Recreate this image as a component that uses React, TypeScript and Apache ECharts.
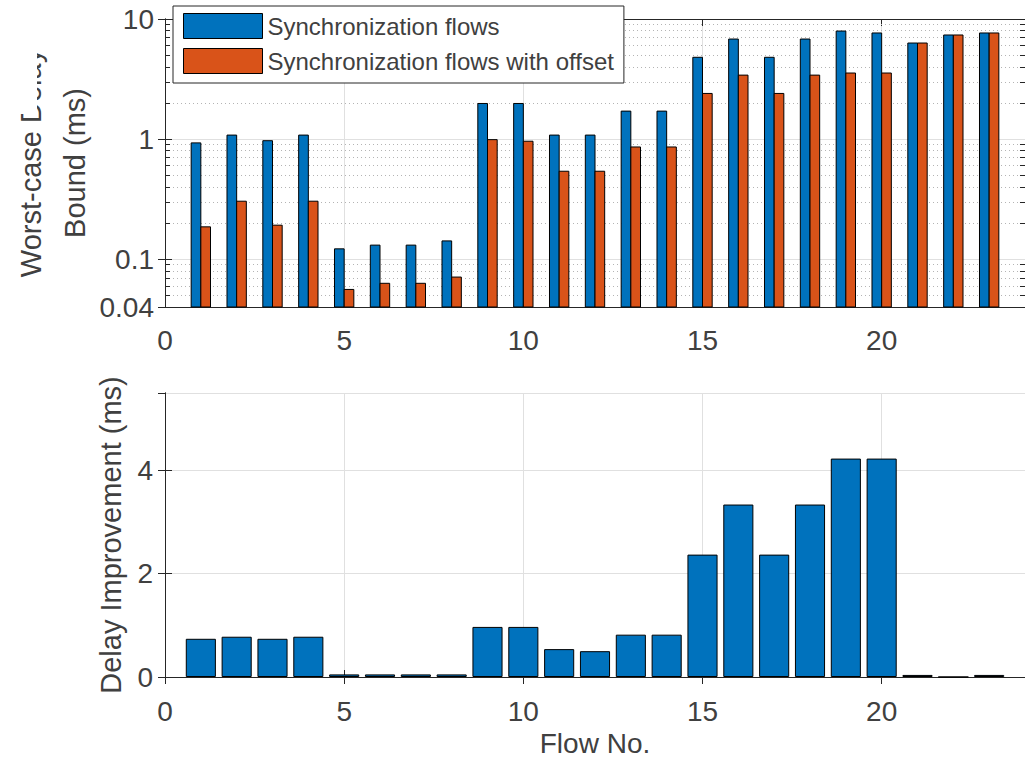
import React, { useEffect, useRef } from 'react';
import * as echarts from 'echarts';

// ---- data ----
const FLOWS = [1, 2, 3, 4, 5, 6, 7, 8, 9, 10, 11, 12, 13, 14, 15, 16, 17, 18, 19, 20, 21, 22, 23];
const SYNC_FLOWS = [0.93, 1.08, 0.97, 1.08, 0.122, 0.131, 0.131, 0.142, 1.98, 1.98, 1.08, 1.08, 1.71, 1.71, 4.8, 6.81, 4.8, 6.81, 7.94, 7.65, 6.31, 7.36, 7.65];
const SYNC_OFFSET = [0.186, 0.304, 0.192, 0.304, 0.056, 0.063, 0.063, 0.071, 0.99, 0.96, 0.54, 0.54, 0.86, 0.86, 2.4, 3.41, 2.4, 3.41, 3.55, 3.55, 6.31, 7.36, 7.65];
const IMPROVEMENT = [0.74, 0.78, 0.74, 0.78, 0.05, 0.05, 0.05, 0.05, 0.97, 0.97, 0.54, 0.5, 0.82, 0.82, 2.37, 3.34, 2.37, 3.34, 4.23, 4.23, 0.04, 0, 0.04];
const MINOR_GRID = [0.05, 0.06, 0.07, 0.08, 0.09, 0.2, 0.3, 0.4, 0.5, 0.6, 0.7, 0.8, 0.9, 2, 3, 4, 5, 6, 7, 8, 9];
const LEGEND_NAMES = ['Synchronization flows', 'Synchronization flows with offset'];
const X_MIN = 0, X_MAX = 24, X_STEP = 5;
const Y_LOG_MIN = 0.04, Y_LOG_MAX = 10;
const Y_LIN_MIN = 0, Y_LIN_MAX = 5.5, Y_LIN_STEP = 2;

// ---- style ----
const FONT = "'Liberation Sans', Arial, Helvetica, sans-serif";
const BLUE = '#0072BD';
const ORANGE = '#D95319';
const AXIS = '#262626';
const TEXT = '#404040';
const GRID = '#e0e0e0';
const BAR_FRACTION = 0.27;
const MINOR_TICK_UNITS = 0.14;

const tickLabel = { fontSize: 28, color: TEXT, fontFamily: FONT };

function makeRender(side: number) {
  return (params: any, api: any) => {
    const x = api.value(0) as number;
    const v = api.value(1) as number;
    const p0 = api.coord([x, v]);
    const p1 = api.coord([x + side * BAR_FRACTION, Y_LOG_MIN]);
    const left = Math.min(p0[0], p1[0]);
    const w = Math.abs(p1[0] - p0[0]);
    return {
      type: 'rect',
      shape: { x: left, y: p0[1], width: w, height: p1[1] - p0[1] },
      style: { fill: api.visual('color'), stroke: '#000', lineWidth: 1 },
    };
  };
}

export default function App() {
  const ref = useRef<HTMLDivElement>(null);
  useEffect(() => {
    if (!ref.current) return;
    const chart = echarts.init(ref.current, undefined, { renderer: 'svg' });
    const axisLine = { show: true, lineStyle: { color: AXIS, width: 1 } };
    const tickIn = { show: true, inside: true, length: 7, lineStyle: { color: AXIS } };
    const xBase = {
      type: 'value' as const,
      min: X_MIN,
      max: X_MAX,
      interval: X_STEP,
      axisLine,
      axisTick: tickIn,
    };
    const minorTicks: any[] = [];
    MINOR_GRID.forEach((v) => {
      minorTicks.push([{ coord: [X_MIN, v] }, { coord: [X_MIN + MINOR_TICK_UNITS, v] }]);
      minorTicks.push([{ coord: [X_MAX - MINOR_TICK_UNITS, v] }, { coord: [X_MAX, v] }]);
    });
    const option: any = {
      animation: false,
      backgroundColor: '#fff',
      textStyle: { fontFamily: FONT },
      grid: [
        { left: 165, right: 0, top: 19, height: 288, outerBoundsMode: 'none' },
        { left: 165, right: 0, top: 393, height: 284, outerBoundsMode: 'none' },
      ],
      legend: {
        data: [
          { name: LEGEND_NAMES[0], icon: 'rect', itemStyle: { color: BLUE, borderColor: '#000', borderWidth: 1 } },
          { name: LEGEND_NAMES[1], icon: 'rect', itemStyle: { color: ORANGE, borderColor: '#000', borderWidth: 1 } },
        ],
        orient: 'vertical',
        left: 173,
        top: 6,
        itemWidth: 79,
        itemHeight: 25,
        itemGap: 9,
        padding: [7, 10, 9, 10],
        backgroundColor: '#fff',
        borderColor: AXIS,
        borderWidth: 1,
        borderRadius: 0,
        textStyle: { fontSize: 24, color: TEXT, fontFamily: FONT },
        z: 10,
      },
      xAxis: [
        {
          ...xBase,
          gridIndex: 0,
          position: 'bottom',
          axisLabel: { ...tickLabel, margin: 19, showMaxLabel: false },
          splitLine: { show: true, lineStyle: { color: GRID } },
        },
        { ...xBase, gridIndex: 0, position: 'top', axisLabel: { show: false }, splitLine: { show: false } },
        {
          ...xBase,
          gridIndex: 1,
          position: 'bottom',
          name: 'Flow No.',
          nameLocation: 'middle',
          nameGap: 52,
          nameMoveOverlap: false,
          nameTextStyle: { fontSize: 28, color: TEXT, fontFamily: FONT, lineHeight: 28 },
          axisLabel: { ...tickLabel, margin: 20, showMaxLabel: false },
          splitLine: { show: true, lineStyle: { color: GRID } },
        },
        { ...xBase, gridIndex: 1, position: 'top', axisLabel: { show: false }, splitLine: { show: false } },
      ],
      yAxis: [
        {
          type: 'log',
          logBase: 10,
          gridIndex: 0,
          position: 'left',
          min: Y_LOG_MIN,
          max: Y_LOG_MAX,
          axisLine,
          axisTick: tickIn,
          axisLabel: {
            ...tickLabel,
            margin: 11,
            padding: [7, 0, 0, 0],
            formatter: (v: number) => String(+Number(v).toPrecision(2)),
          },
          splitLine: { show: true, lineStyle: { color: GRID } },
          name: 'Worst-case Delay\nBound (ms)',
          nameLocation: 'middle',
          nameGap: 68,
          nameMoveOverlap: false,
          nameTextStyle: { fontSize: 29, color: TEXT, fontFamily: FONT, lineHeight: 44 },
        },
        {
          type: 'log',
          logBase: 10,
          gridIndex: 0,
          position: 'right',
          min: Y_LOG_MIN,
          max: Y_LOG_MAX,
          axisLine,
          axisTick: tickIn,
          axisLabel: { show: false },
          splitLine: { show: false },
        },
        {
          type: 'value',
          gridIndex: 1,
          position: 'left',
          min: Y_LIN_MIN,
          max: Y_LIN_MAX,
          interval: Y_LIN_STEP,
          axisLine,
          axisTick: tickIn,
          axisLabel: { ...tickLabel, margin: 12, padding: [7, 0, 0, 0], showMaxLabel: false },
          splitLine: { show: true, lineStyle: { color: GRID } },
          name: 'Delay Improvement (ms)',
          nameLocation: 'middle',
          nameGap: 40,
          nameMoveOverlap: false,
          nameTextStyle: { fontSize: 29, color: TEXT, fontFamily: FONT, lineHeight: 29 },
        },
        {
          type: 'value',
          gridIndex: 1,
          position: 'right',
          min: Y_LIN_MIN,
          max: Y_LIN_MAX,
          interval: Y_LIN_STEP,
          axisLine,
          axisTick: tickIn,
          axisLabel: { show: false },
          splitLine: { show: false },
        },
      ],
      series: [
        {
          name: 'minor-grid',
          type: 'line',
          xAxisIndex: 0,
          yAxisIndex: 0,
          data: [],
          z: 1,
          silent: true,
          markLine: {
            silent: true,
            symbol: 'none',
            z: 1,
            label: { show: false },
            lineStyle: { type: [1, 3], color: '#b4b4b4', width: 1 },
            data: MINOR_GRID.map((v) => ({ yAxis: v })),
          },
        },
        {
          name: 'minor-ticks',
          type: 'line',
          xAxisIndex: 0,
          yAxisIndex: 0,
          data: [],
          z: 4,
          silent: true,
          markLine: {
            silent: true,
            symbol: 'none',
            z: 4,
            label: { show: false },
            lineStyle: { type: 'solid', color: AXIS, width: 1 },
            data: minorTicks,
          },
        },
        {
          name: LEGEND_NAMES[0],
          type: 'custom',
          xAxisIndex: 0,
          yAxisIndex: 0,
          z: 3,
          itemStyle: { color: BLUE },
          encode: { x: 0, y: 1 },
          data: FLOWS.map((f, i) => [f, SYNC_FLOWS[i]]),
          renderItem: makeRender(-1),
        },
        {
          name: LEGEND_NAMES[1],
          type: 'custom',
          xAxisIndex: 0,
          yAxisIndex: 0,
          z: 3,
          itemStyle: { color: ORANGE },
          encode: { x: 0, y: 1 },
          data: FLOWS.map((f, i) => [f, SYNC_OFFSET[i]]),
          renderItem: makeRender(1),
        },
        {
          name: 'Delay Improvement',
          type: 'bar',
          xAxisIndex: 2,
          yAxisIndex: 2,
          barWidth: '84%',
          z: 3,
          itemStyle: { color: BLUE, borderColor: '#000', borderWidth: 1 },
          data: FLOWS.map((f, i) => [f, IMPROVEMENT[i]]),
        },
      ],
      graphic: [
        {
          type: 'rect',
          left: 0,
          top: 40,
          z: 100,
          silent: true,
          shape: { width: 37, height: 74 },
          style: { fill: '#fff' },
        },
      ],
    };
    chart.setOption(option);
    return () => chart.dispose();
  }, []);
  return (
    <div
      ref={ref}
      style={{ position: 'fixed', left: 0, top: 0, width: 1025, height: 759, background: '#fff' }}
    />
  );
}
